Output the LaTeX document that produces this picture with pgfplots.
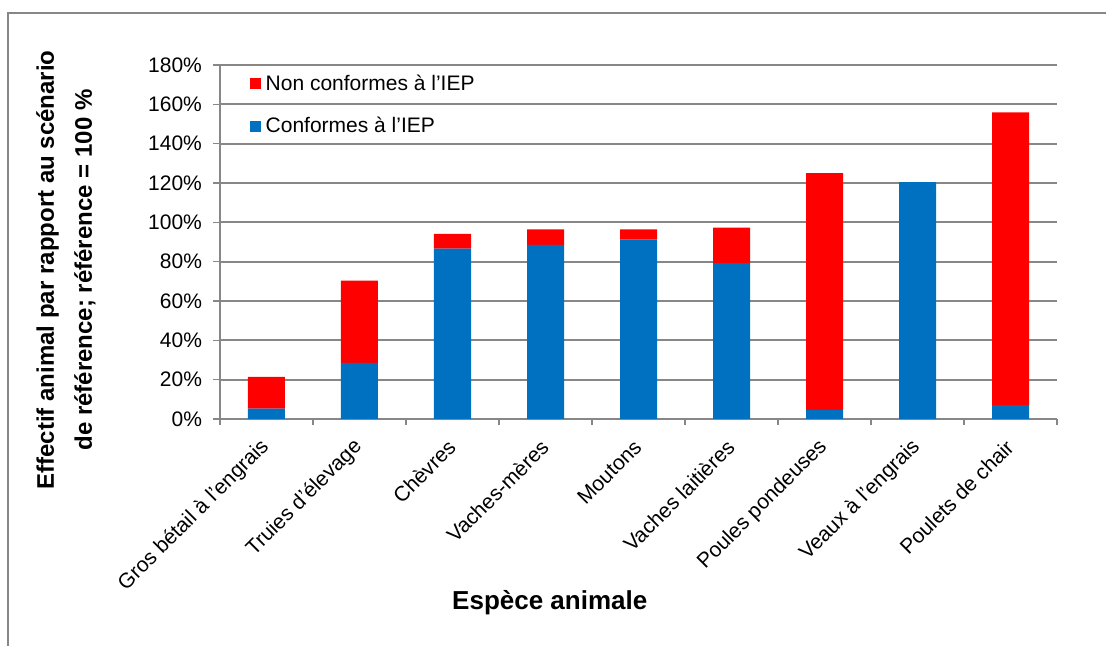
\documentclass[border=0pt]{standalone}
\usepackage{pgfplots}
\pgfplotsset{compat=1.18}
\usepackage{fontspec}
\setmainfont{Liberation Sans}

\definecolor{conf}{HTML}{0070C0}
\definecolor{nonconf}{HTML}{FF0000}
\definecolor{axgray}{HTML}{878787}

\begin{document}
\begin{tikzpicture}
    \useasboundingbox (-110pt,-113.5pt) rectangle (443pt,209.5pt);
    % outer chart frame (cut by the image edges)
    \draw[axgray, line width=1pt] (-106pt,-114pt) -- (-106pt,203pt) -- (444pt,203pt);

    \begin{axis}[
        scale only axis,
        width=418.5pt,
        height=177pt,
        ybar stacked,
        bar width=18.5pt,
        xmin=-0.5, xmax=8.5,
        ymin=0, ymax=180,
        xtick={0,...,8},
        xticklabels={Gros bétail à l’engrais, Truies d’élevage, Chèvres, Vaches-mères, Moutons, Vaches laitières, Poules pondeuses, Veaux à l’engrais, Poulets de chair},
        minor xtick={-0.5,0.5,...,8.5},
        major x tick style={draw=none},
        minor x tick style={axgray, line width=0.8pt},
        minor tick length=3pt,
        ytick={0,20,...,180},
        yticklabel={\pgfmathprintnumber{\tick}\%},
        /pgf/number format/assume math mode=true,
        tick align=outside,
        major tick length=3.5pt,
        y tick style={axgray, line width=0.8pt},
        axis x line*=bottom,
        axis y line*=left,
        axis line style={axgray, line width=0.8pt},
        ymajorgrids=true,
        grid style={axgray, line width=0.9pt},
        tick label style={font=\fontsize{10.5}{12}\selectfont},
        y tick label style={xshift=-2pt},
        x tick label style={rotate=45, anchor=east, xshift=-3pt, yshift=-6pt},
        xlabel={\textbf{Espèce animale}},
        xlabel style={font=\fontsize{13}{15}\selectfont, at={(rel axis cs:0.394,-0.518)}, anchor=center},
        ylabel={\textbf{Effectif animal par rapport au scénario}\\\textbf{de référence; référence = 100 \%}},
        ylabel style={font=\fontsize{12}{19}\selectfont, align=center, at={(rel axis cs:-0.184,0.421)}, anchor=center, rotate=0},
        legend style={draw=none, fill=none, at={(rel axis cs:0.035,0.985)}, anchor=north west,
            font=\fontsize{10.5}{12}\selectfont, row sep=8pt, inner sep=0pt,
            nodes={inner xsep=2.5pt}},
        legend cell align=left,
        reverse legend,
        legend image code/.code={\fill[#1] (0pt,-2.75pt) rectangle (5.5pt,2.75pt);},
        ]

        % Conformes à l'IEP
        \addplot[fill=conf, draw=none] coordinates {
            (0,5.3) (1,28.5) (2,86.6) (3,88.6) (4,91.2)
            (5,79.3) (6,4.6) (7,120.5) (8,7.0)
        };
        \addlegendentry{Conformes à l’IEP}

        % Non conformes à l'IEP
        \addplot[fill=nonconf, draw=none] coordinates {
            (0,16.1) (1,41.8) (2,7.5) (3,7.8) (4,5.2)
            (5,18.0) (6,120.4) (7,0) (8,148.9)
        };
        \addlegendentry{Non conformes à l’IEP}
    \end{axis}
\end{tikzpicture}
\end{document}
